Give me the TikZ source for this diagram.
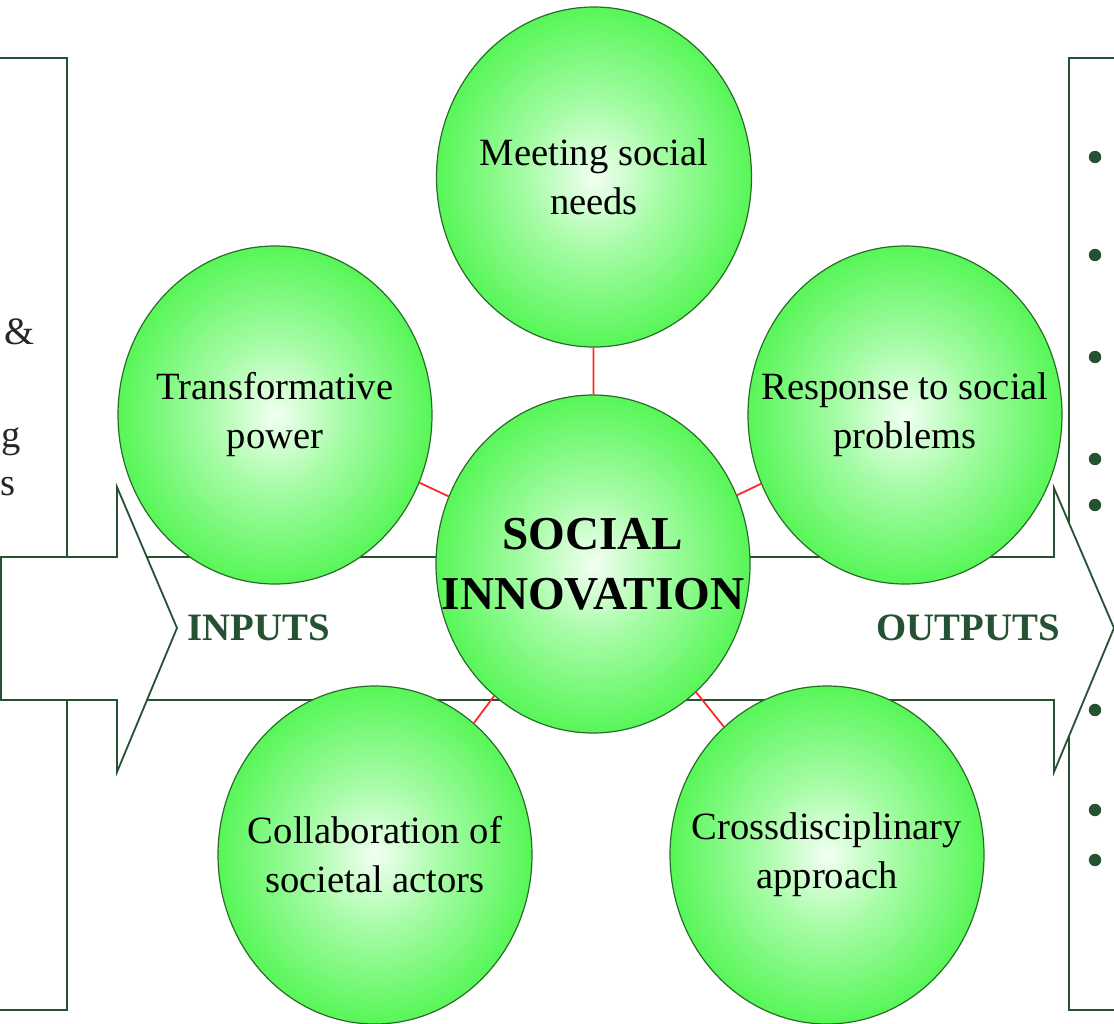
\documentclass[tikz,border=0pt]{standalone}
\usepackage{fontspec}
\setmainfont{Liberation Serif}
\usetikzlibrary{shapes.geometric}
\definecolor{lineg}{RGB}{38,82,52}
\definecolor{ballrim}{RGB}{40,110,40}
\definecolor{ballout}{RGB}{88,246,88}
\definecolor{ballmid}{RGB}{165,252,165}
\definecolor{ballin}{RGB}{242,255,242}
\definecolor{redlink}{RGB}{255,40,40}
\pgfdeclareradialshading{greenball}{\pgfpoint{0bp}{0bp}}{color(0bp)=(ballin); color(11bp)=(ballmid); color(25bp)=(ballout); color(50bp)=(ballout)}
\begin{document}
\begin{tikzpicture}[x=0.5pt,y=-0.5pt,
  ball/.style={ellipse, draw=ballrim, line width=0.6pt, shade, shading=greenball,
    minimum width=157pt, minimum height=169pt, inner sep=0pt},
  balltext/.style={align=center, inner sep=0pt, font=\fontsize{19.3}{24.5}\selectfont},
  frame/.style={draw=lineg, line width=0.9pt, fill=white, line join=miter},
  link/.style={draw=redlink, line width=0.9pt},
  flowlabel/.style={text=lineg, inner sep=0pt, font=\bfseries\fontsize{19.4}{23}\selectfont},
  dot/.style={circle, fill=lineg, minimum size=6.2pt, inner sep=0pt},
  frag/.style={anchor=base east, inner sep=0pt, text=black!85, font=\fontsize{19.3}{24.5}\selectfont}]
\useasboundingbox (0,0) rectangle (1114,1023);
\clip (0,0) rectangle (1114,1023);
\fill[white] (0,0) rectangle (1114,1023);
% side boxes
\draw[frame] (-20,58) rectangle (67,1010);
\draw[frame] (1069,58) rectangle (1140,1010);
\node[frag] (frag1) at (35,344) {\&};
\node[frag] (frag2) at (21,447) {g};
\node[frag] (frag3) at (16,495) {s};
% big arrows
\draw[frame] (130,557) -- (1054,557) -- (1054,488) -- (1114,628) -- (1054,772) -- (1054,700) -- (130,700) -- cycle;
\draw[frame] (1,557) -- (117,557) -- (117,487) -- (177,628) -- (117,772) -- (117,700) -- (1,700) -- cycle;
\node[flowlabel] (inputs) at (259,628) {INPUTS};
\node[flowlabel] (outputs) at (968,628) {OUTPUTS};
% bullets
\foreach \yy in {157,255,357,459,505,710,810,860}
  \node[dot] (bullet\yy) at (1095,\yy) {};
% circles
\node[ball, minimum width=157.5pt, minimum height=170pt] (needs) at (594,177) {};
\node[ball] (power) at (275,415) {};
\node[ball] (problems) at (905,415) {};
\node[ball] (actors) at (375,855) {};
\node[ball] (approach) at (827,855) {};
\node[ball] (core) at (593,564) {};
% links
\draw[link] (core) -- (needs);
\draw[link] (core) -- (power);
\draw[link] (core) -- (problems);
\draw[link] (core) -- (actors);
\draw[link] (core) -- (approach);
% texts
\node[balltext] (needs-t) at (needs) {Meeting social\\needs};
\node[balltext] (power-t) at (power) {Transformative\\power};
\node[balltext] (problems-t) at (problems) {Response to social\\problems};
\node[balltext] (actors-t) at (actors) {Collaboration of\\societal actors};
\node[balltext] (approach-t) at (approach) {Crossdisciplinary\\approach};
\node[balltext, font=\bfseries\fontsize{23.6}{30}\selectfont] (core-t) at (core) {SOCIAL\\INNOVATION};
\end{tikzpicture}
\end{document}
